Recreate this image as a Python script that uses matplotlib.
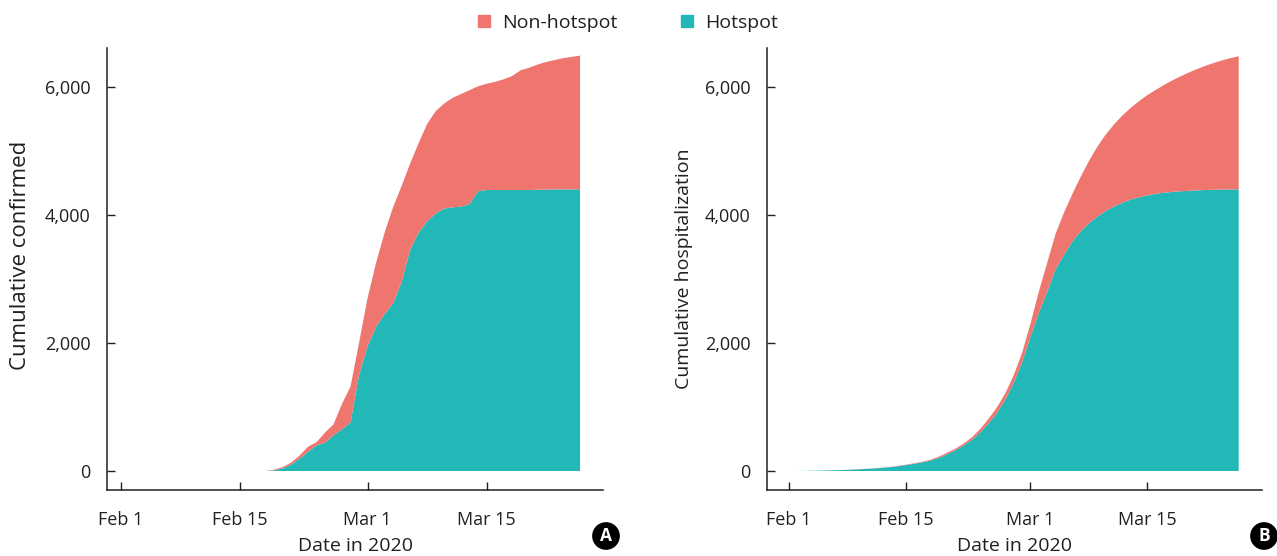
import pandas as pd
import matplotlib.pyplot as plt
from matplotlib.patches import Patch

plt.rcParams['font.family'] = ['Open Sans', 'DejaVu Sans']

# panel A: cumulative confirmed, Feb 18 - Mar 26
dates_a = pd.date_range('2020-02-18', '2020-03-26')
total_a = [0, 20, 60, 130, 240, 380, 450, 600, 730, 1050, 1320, 2000, 2700, 3250,
           3720, 4120, 4450, 4800, 5120, 5420, 5620, 5740, 5830, 5890, 5950, 6010,
           6050, 6080, 6120, 6170, 6260, 6300, 6350, 6390, 6420, 6450, 6470, 6490]
hot_a = [0, 10, 40, 100, 190, 300, 400, 440, 560, 650, 760, 1500, 1950, 2250,
         2450, 2620, 2950, 3450, 3720, 3900, 4020, 4100, 4120, 4130, 4170, 4370,
         4390, 4390, 4390, 4390, 4390, 4390, 4395, 4395, 4400, 4400, 4400, 4400]

# panel B: cumulative hospitalization, Feb 2 - Mar 26
dates_b = pd.date_range('2020-02-02', '2020-03-26')
total_b = [0, 2, 4, 7, 10, 14, 19, 25, 32, 40, 50, 62, 78, 98, 120, 145, 175, 225,
           285, 350, 430, 530, 660, 820, 1000, 1220, 1500, 1850, 2300, 2800, 3250,
           3700, 4030, 4320, 4590, 4840, 5060, 5250, 5410, 5550, 5670, 5775, 5870,
           5950, 6030, 6100, 6165, 6225, 6280, 6330, 6375, 6415, 6450, 6480]
hot_b = [0, 2, 4, 7, 10, 14, 18, 24, 31, 38, 47, 58, 73, 92, 112, 135, 162, 205,
         262, 325, 400, 490, 605, 750, 910, 1120, 1380, 1700, 2100, 2470, 2800,
         3150, 3370, 3580, 3740, 3870, 3970, 4060, 4130, 4190, 4240, 4275, 4305,
         4330, 4348, 4360, 4370, 4378, 4385, 4390, 4394, 4397, 4399, 4400]

ticks = pd.to_datetime(['2020-02-01', '2020-02-15', '2020-03-01', '2020-03-15'])
tick_labels = ['Feb 1', 'Feb 15', 'Mar 1', 'Mar 15']

red = '#EF756F'
teal = '#22B8B7'
ink = '#231F20'

fig = plt.figure(figsize=(12.77, 5.56), dpi=100)
W, H = 1277, 556


def make_axes(left, right, top, bottom):
    return fig.add_axes([left / W, 1 - bottom / H, (right - left) / W, (bottom - top) / H])


ax_a = make_axes(107, 603, 48, 490)
ax_b = make_axes(767, 1262, 48, 490)

panels = [
    (ax_a, dates_a, hot_a, total_a, 'Cumulative confirmed', -1.65, 56.7, 16, 10, 0.53),
    (ax_b, dates_b, hot_b, total_b, 'Cumulative hospitalization', -2.64, 56.8, 14, 8, 0.5),
]
feb1 = pd.Timestamp('2020-02-01')

for ax, dates, hot, total, ylabel, x0, x1, yfs, ypad, ypos in panels:
    non = [t - h for t, h in zip(total, hot)]
    ax.stackplot(dates, hot, non, colors=[teal, red], linewidth=0)
    ax.set_xlim(feb1 + pd.Timedelta(days=x0), feb1 + pd.Timedelta(days=x1))
    ax.set_ylim(-297, 6609)
    ax.set_xticks(ticks)
    ax.set_xticklabels(tick_labels)
    ax.set_yticks([0, 2000, 4000, 6000])
    ax.set_yticklabels(['0', '2,000', '4,000', '6,000'])
    ax.tick_params(direction='in', length=6, width=1, colors=ink, labelsize=13)
    ax.tick_params(axis='x', pad=15)
    ax.tick_params(axis='y', pad=12)
    for s in ['top', 'right']:
        ax.spines[s].set_visible(False)
    for s in ['left', 'bottom']:
        ax.spines[s].set_color(ink)
        ax.spines[s].set_linewidth(1.1)
    ax.set_xlabel('Date in 2020', fontsize=14, color=ink, labelpad=6)
    ax.set_ylabel(ylabel, fontsize=yfs, color=ink, labelpad=ypad)
    ax.yaxis.label.set_y(ypos)

fig.legend(handles=[Patch(color=red, label='Non-hotspot'), Patch(color=teal, label='Hotspot')],
           loc='center', bbox_to_anchor=(628 / W, 1 - 23 / H), ncol=2, frameon=False,
           fontsize=14, handlelength=0.6, handleheight=0.6, handletextpad=0.6,
           columnspacing=3.3, labelcolor=ink)

for letter, x in [('A', 606), ('B', 1264)]:
    fig.text(x / W, 1 - 536 / H, letter, color='white', fontsize=12.5, fontweight='bold',
             ha='center', va='center',
             bbox=dict(boxstyle='circle,pad=0.28', fc='black', ec='none'))

fig.savefig('out.png', dpi=100)
